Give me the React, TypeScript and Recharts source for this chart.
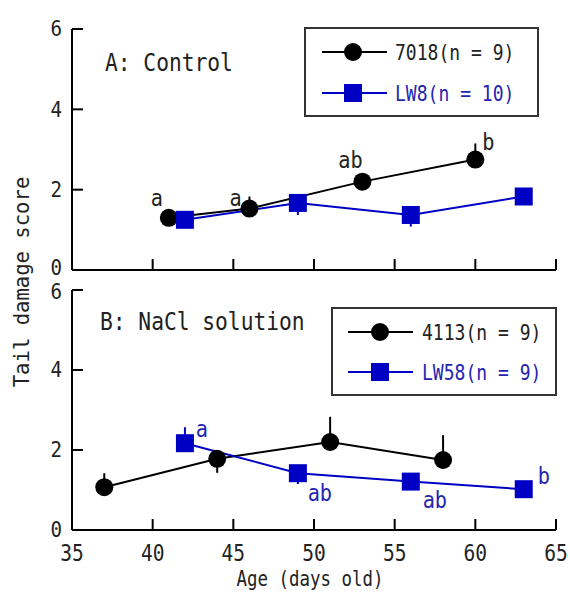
import React from 'react';
import { ComposedChart, Line, XAxis, YAxis, ErrorBar, LabelList } from 'recharts';

// ---------- data ----------
const xTicks = [35, 40, 45, 50, 55, 60, 65];
const yTicks = [0, 2, 4, 6];

// Panel A: Control
const ageA7018 = [41, 46, 53, 60];
const scoreA7018 = [1.3, 1.53, 2.2, 2.75];
const errA7018: [number, number][] = [[0, 0.12], [0, 0.3], [0, 0.12], [0, 0.4]];
const sigA7018 = ['a', 'a', 'ab', 'b'];

const ageALW8 = [42, 49, 56, 63];
const scoreALW8 = [1.25, 1.67, 1.37, 1.83];
const errALW8: [number, number][] = [[0.1, 0], [0.3, 0], [0.29, 0], [0.1, 0]];

// Panel B: NaCl solution
const ageB4113 = [37, 44, 51, 58];
const scoreB4113 = [1.07, 1.78, 2.2, 1.75];
const errB4113: [number, number][] = [[0, 0.35], [0.35, 0], [0, 0.63], [0, 0.62]];

const ageBLW58 = [42, 49, 56, 63];
const scoreBLW58 = [2.17, 1.42, 1.21, 1.02];
const errBLW58: [number, number][] = [[0, 0.4], [0.27, 0], [0.1, 0], [0.1, 0]];
const sigBLW58 = ['a', 'ab', 'ab', 'b'];

const legendA = ['7018(n = 9)', 'LW8(n = 10)'];
const legendB = ['4113(n = 9)', 'LW58(n = 9)'];

// ---------- styles ----------
const BLACK = '#000';
const BLUE = '#0000C4';
const BLUE_TEXT = '#2424B0';
const TEXT = '#222';
const FONT = "'DejaVu Sans Mono', monospace";

// label offsets (style) relative to each point
const offA7018 = [[-12, -20], [-14, -11], [-12, -22], [13, -18]];
const offBLW58 = [[17, -14], [22, 20], [24, 18], [20, -13]];

const rows = (xs: number[], ys: number[], errs: [number, number][], sig?: string[]) =>
  xs.map((x, i) => ({ x, y: ys[i], err: errs[i], sig: sig ? sig[i] : '' }));

const dataA7018 = rows(ageA7018, scoreA7018, errA7018, sigA7018);
const dataALW8 = rows(ageALW8, scoreALW8, errALW8);
const dataB4113 = rows(ageB4113, scoreB4113, errB4113);
const dataBLW58 = rows(ageBLW58, scoreBLW58, errBLW58, sigBLW58);

function MonoText(props: any) {
  const { x, y, size, sx = 0.88, anchor = 'start', fill = TEXT, rotate = 0, children } = props;
  return (
    <text
      transform={`translate(${x} ${y})${rotate ? ` rotate(${rotate})` : ''} scale(${sx} 1)`}
      x={0}
      y={0}
      fontFamily={FONT}
      fontSize={size}
      textAnchor={anchor}
      dominantBaseline="central"
      fill={fill}
    >
      {children}
    </text>
  );
}

const makeXTick = (showLabel: boolean) => (p: any) => (
  <g>
    <line x1={p.x} y1={p.y} x2={p.x} y2={p.y - 11} stroke={BLACK} strokeWidth={2} />
    {showLabel && (
      <MonoText x={p.x} y={p.y + 23} size={23} sx={0.85} anchor="middle">
        {p.payload.value}
      </MonoText>
    )}
  </g>
);

const makeYTick = (dy0: number, dy6: number) => (p: any) => {
  const v = p.payload.value;
  const dy = v === 0 ? dy0 : v === 6 ? dy6 : 0;
  return (
    <g>
      <line x1={p.x} y1={p.y} x2={p.x + 11} y2={p.y} stroke={BLACK} strokeWidth={2} />
      <MonoText x={p.x - 10} y={p.y + dy} size={22} sx={0.87} anchor="end">
        {v}
      </MonoText>
    </g>
  );
};

const circleDot = (p: any) => <circle key={`c${p.index}`} cx={p.cx} cy={p.cy} r={9} fill={BLACK} />;
const squareDot = (p: any) => (
  <rect key={`s${p.index}`} x={p.cx - 9} y={p.cy - 9} width={18} height={18} fill={BLUE} />
);

const sigLabel = (offs: number[][], color: string) => (p: any) => {
  const o = offs[p.index] || [0, 0];
  if (!p.value) return null;
  return (
    <MonoText key={`l${p.index}`} x={p.x + o[0]} y={p.y + o[1]} size={23} sx={0.88} anchor="middle" fill={color}>
      {p.value}
    </MonoText>
  );
};

export default function App() {
  const axisLine = { stroke: BLACK, strokeWidth: 2 };
  const xAxisProps: any = {
    type: 'number',
    dataKey: 'x',
    domain: [35, 65],
    ticks: xTicks,
    height: 1,
    tickSize: 0,
    tickMargin: 0,
    tickLine: false,
    axisLine,
    allowDataOverflow: true,
    interval: 0,
  };
  const yAxisProps: any = {
    type: 'number',
    domain: [0, 6],
    ticks: yTicks,
    width: 1,
    tickSize: 0,
    tickMargin: 0,
    tickLine: false,
    axisLine,
    allowDataOverflow: true,
    interval: 0,
  };
  return (
    <div style={{ position: 'absolute', left: 0, top: 0, width: 570, height: 592, background: '#fff' }}>
      <div style={{ position: 'absolute', left: 0, top: 0 }}>
        <ComposedChart width={570} height={592} margin={{ top: 29, right: 14, bottom: 321, left: 71 }}>
          <XAxis {...xAxisProps} tick={makeXTick(false)} />
          <YAxis {...yAxisProps} tick={makeYTick(-2, 0)} />
          <Line data={dataA7018} dataKey="y" stroke={BLACK} strokeWidth={2} dot={circleDot} activeDot={false} isAnimationActive={false}>
            <ErrorBar dataKey="err" direction="y" width={0} stroke={BLACK} strokeWidth={2} />
            <LabelList dataKey="sig" content={sigLabel(offA7018, TEXT)} />
          </Line>
          <Line data={dataALW8} dataKey="y" stroke={BLUE} strokeWidth={2} dot={squareDot} activeDot={false} isAnimationActive={false}>
            <ErrorBar dataKey="err" direction="y" width={0} stroke={BLUE} strokeWidth={2} />
          </Line>
        </ComposedChart>
      </div>
      <div style={{ position: 'absolute', left: 0, top: 0 }}>
        <ComposedChart width={570} height={592} margin={{ top: 290, right: 14, bottom: 61, left: 71 }}>
          <XAxis {...xAxisProps} tick={makeXTick(true)} />
          <YAxis {...yAxisProps} tick={makeYTick(0, 2)} />
          <Line data={dataB4113} dataKey="y" stroke={BLACK} strokeWidth={2} dot={circleDot} activeDot={false} isAnimationActive={false}>
            <ErrorBar dataKey="err" direction="y" width={0} stroke={BLACK} strokeWidth={2} />
          </Line>
          <Line data={dataBLW58} dataKey="y" stroke={BLUE} strokeWidth={2} dot={squareDot} activeDot={false} isAnimationActive={false}>
            <ErrorBar dataKey="err" direction="y" width={0} stroke={BLUE} strokeWidth={2} />
            <LabelList dataKey="sig" content={sigLabel(offBLW58, BLUE_TEXT)} />
          </Line>
        </ComposedChart>
      </div>
      <svg
        width={570}
        height={592}
        style={{ position: 'absolute', left: 0, top: 0, pointerEvents: 'none' }}
      >
        {/* panel titles */}
        <MonoText x={105} y={62} size={25} sx={0.85}>A: Control</MonoText>
        <MonoText x={100} y={321} size={25} sx={0.85}>B: NaCl solution</MonoText>

        {/* legend A */}
        <rect x={305} y={28} width={233} height={88} fill="#fff" stroke="#333" strokeWidth={2} />
        <line x1={322} y1={52} x2={387} y2={52} stroke={BLACK} strokeWidth={2} />
        <circle cx={353} cy={52} r={9} fill={BLACK} />
        <MonoText x={395} y={52} size={22} sx={0.82}>{legendA[0]}</MonoText>
        <line x1={322} y1={93} x2={387} y2={93} stroke={BLUE} strokeWidth={2} />
        <rect x={344} y={84} width={18} height={18} fill={BLUE} />
        <MonoText x={395} y={93} size={22} sx={0.82} fill={BLUE_TEXT}>{legendA[1]}</MonoText>

        {/* legend B */}
        <rect x={332} y={308} width={224} height={87} fill="#fff" stroke="#333" strokeWidth={2} />
        <line x1={348} y1={332} x2={413} y2={332} stroke={BLACK} strokeWidth={2} />
        <circle cx={380} cy={332} r={9} fill={BLACK} />
        <MonoText x={422} y={332} size={22} sx={0.82}>{legendB[0]}</MonoText>
        <line x1={348} y1={372} x2={413} y2={372} stroke={BLUE} strokeWidth={2} />
        <rect x={371} y={363} width={18} height={18} fill={BLUE} />
        <MonoText x={422} y={372} size={22} sx={0.82} fill={BLUE_TEXT}>{legendB[1]}</MonoText>

        {/* axis titles */}
        <MonoText x={22} y={282} size={21} sx={0.98} anchor="middle" rotate={-90}>Tail damage score</MonoText>
        <MonoText x={310} y={579} size={21} sx={0.83} anchor="middle">Age (days old)</MonoText>
      </svg>
    </div>
  );
}
